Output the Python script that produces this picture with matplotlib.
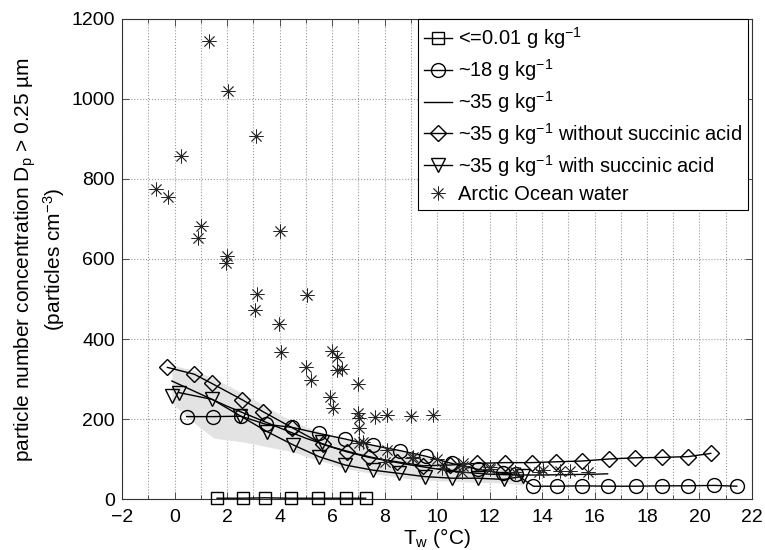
import numpy as np
import matplotlib
matplotlib.use('Agg')
import matplotlib.pyplot as plt

plt.rcParams['font.family'] = ['Liberation Sans', 'DejaVu Sans']
plt.rcParams['mathtext.fontset'] = 'custom'
plt.rcParams['mathtext.rm'] = 'Liberation Sans'
plt.rcParams['mathtext.it'] = 'Liberation Sans'
plt.rcParams['mathtext.default'] = 'regular'

# ---- dados ----
# <=0.01 g/kg (quadrados)
x_sq = [1.62, 2.6, 3.45, 4.43, 5.47, 6.52, 7.28]
y_sq = [2, 2, 3, 2, 2, 2, 2]

# ~18 g/kg (circulos)
x_ci = [0.46, 1.48, 2.53, 3.47, 4.49, 5.49, 6.5, 7.57, 8.59, 9.57, 10.56,
        11.57, 12.5, 13.0, 13.67, 14.56, 15.51, 16.5, 17.57, 18.56, 19.57,
        20.56, 21.42]
y_ci = [206, 206, 207, 187, 179, 164, 150, 134, 121, 107, 89,
        74, 64, 62, 32, 32, 33, 32, 32, 33, 33, 34, 32]

# ~35 g/kg (linha media) e faixa cinza
x_35 = [-0.1, 1, 2, 3, 4, 5, 6, 7, 8, 9, 10, 11, 12, 13, 14, 15, 16, 16.5]
y_35 = [295, 262, 232, 205, 178, 152, 130, 112, 97, 85, 75, 67, 62, 60, 60,
        61, 62, 63]
x_band = [-0.1, 0.7, 1.5, 2.6, 3.5, 4.5, 5.2, 5.9, 6.4, 7.7, 9.0, 10.2,
          11.5, 12.6, 13.3]
band_hi = [335, 322, 302, 264, 231, 193, 177, 160, 150, 135, 114, 97, 90,
           85, 75]
band_lo = [240, 193, 152, 143, 131, 118, 102, 89, 77, 62, 50, 45, 42, 40, 35]

# ~35 g/kg sem acido succinico (losangos)
x_di = [-0.27, 0.75, 1.42, 2.58, 3.38, 4.49, 5.64, 6.56, 7.41, 8.47, 9.48,
        10.5, 11.51, 12.6, 13.6, 14.52, 15.54, 16.55, 17.54, 18.56, 19.57,
        20.43]
y_di = [329, 312, 289, 248, 218, 178, 137, 118, 104, 93, 83,
        85, 89, 91, 91, 93, 95, 100, 103, 104, 106, 114]

# ~35 g/kg com acido succinico (triangulos)
x_tr = [0.17, 1.44, 2.5, 3.54, 4.53, 5.5, 6.5, 7.57, 8.56, 9.54, 10.59,
        11.57, 12.55, 13.29]
y_tr = [266, 249, 208, 168, 135, 106, 85, 72, 64, 56, 52, 52, 49, 57]
x_tr2 = [-0.11, 5.6]
y_tr2 = [258, 143]

# agua do Oceano Artico (asteriscos)
x_ar = [1.31, 2.05, 3.1, 0.25, -0.7, -0.24, 1.01, 0.88, 4.02, 2.01, 1.96,
        3.15, 5.04, 3.05, 3.98, 4.06, 5.01, 5.19, 6.01, 6.18, 6.2, 6.37,
        5.92, 6.05, 6.98, 6.98, 7.04, 7.04, 7.65, 8.08, 9.01, 9.84, 7.04,
        7.19, 8.02, 8.08, 9.04, 9.99, 10.18, 9.1, 11.0, 11.0, 12.02, 12.02,
        12.97, 13.87, 14.05, 14.69, 15.07, 15.74, 10.94]
y_ar = [1145, 1020, 908, 858, 775, 756, 683, 652, 671, 608, 589,
        512, 509, 472, 437, 367, 331, 298, 370, 356, 322, 325,
        256, 227, 287, 216, 202, 178, 204, 210, 208, 210, 139,
        143, 93, 122, 102, 99, 77, 106, 89, 82, 79, 75,
        68, 68, 72, 71, 70, 67, 68]

xticks = np.arange(-2, 23, 2)
yticks = np.arange(0, 1201, 200)

fig = plt.figure(figsize=(7.65, 5.5), dpi=100)
ax = fig.add_axes([0.1595, 0.0927, 0.8235, 0.8728])

ax.fill_between(x_band, band_lo, band_hi, color='0.89', lw=0, zorder=1)

ax.plot(x_sq, y_sq, color='k', marker='s', mfc='none', ms=9, lw=1,
        label='<=0.01 g kg$^{-1}$', zorder=3, clip_on=False)
ax.plot(x_ci, y_ci, color='k', marker='o', mfc='none', ms=10, lw=1,
        label='~18 g kg$^{-1}$', zorder=3)
ax.plot(x_35, y_35, color='k', lw=1, label='~35 g kg$^{-1}$', zorder=3)
ax.plot(x_di, y_di, color='k', marker='D', mfc='none', ms=8, lw=1,
        label='~35 g kg$^{-1}$ without succinic acid', zorder=3)
ax.plot(x_tr, y_tr, color='k', marker='v', mfc='none', ms=10, lw=1,
        label='~35 g kg$^{-1}$ with succinic acid', zorder=3)
ax.plot(x_tr2, y_tr2, color='k', marker='v', mfc='none', ms=10, ls='none',
        zorder=3)
ax.plot(x_ar, y_ar, color='0.15', marker=(8, 2, 0), ms=10, mew=0.6,
        ls='none', label='Arctic Ocean water', zorder=4)

ax.set_xlim(-2, 22)
ax.set_ylim(0, 1200)
ax.set_xticks(xticks)
ax.set_xticks(np.arange(-2, 23, 1), minor=True)
ax.set_yticks(yticks)
ax.tick_params(which='both', direction='in', top=True, right=True,
               labelsize=14, width=0.7, color='0.3')
ax.tick_params(which='major', length=5)
ax.tick_params(which='minor', length=3)
ax.tick_params(axis='x', pad=7)
ax.tick_params(axis='y', pad=5)

ax.grid(True, which='both', axis='x', ls=':', color='0.6', lw=0.8)
ax.grid(True, which='major', axis='y', ls=':', color='0.6', lw=0.8)
# no original nao aparece a linha de grade em 800
for t in ax.yaxis.get_major_ticks():
    if abs(t.get_loc() - 800) < 1:
        t.gridline.set_visible(False)
ax.set_axisbelow(True)

for s in ax.spines.values():
    s.set_color('0.2')
    s.set_linewidth(0.8)

ax.set_xlabel('T$_w$ (°C)', fontsize=15, labelpad=0)
ax.set_ylabel('particle number concentration D$_p$ > 0.25 µm\n(particles cm$^{-3}$)',
              fontsize=15, labelpad=3)

leg = ax.legend(loc='upper right', bbox_to_anchor=(0.994, 1.0),
                fontsize=14.5, frameon=True, fancybox=False,
                handlelength=1.4, handletextpad=0.3, labelspacing=0.3,
                borderaxespad=0, borderpad=0.3)
leg.get_frame().set_edgecolor('k')
leg.get_frame().set_linewidth(0.8)
leg.get_frame().set_alpha(1)

fig.savefig('out.png', dpi=100)
